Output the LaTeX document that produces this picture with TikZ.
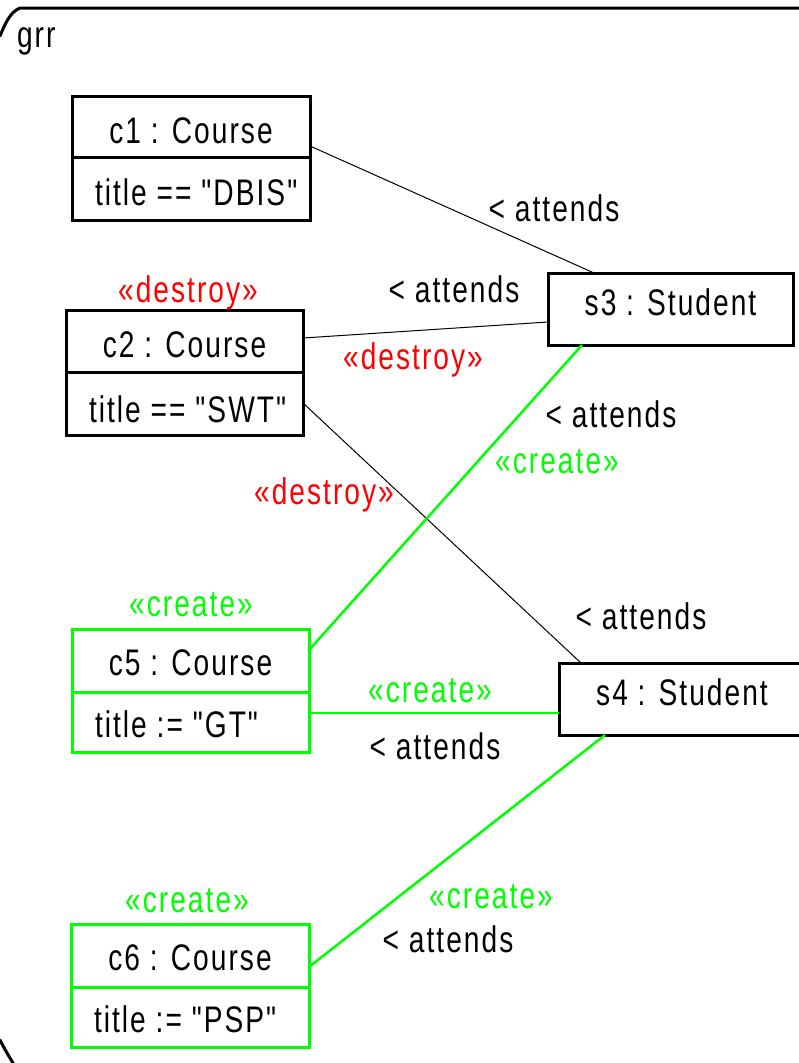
\documentclass[tikz,border=0pt]{standalone}
\usepackage{fontspec}
\setmainfont{Liberation Sans}[Ligatures=TeXOff,FakeStretch=0.76,LetterSpace=5.5]
\definecolor{creategreen}{RGB}{0,255,0}
\definecolor{destroyred}{RGB}{255,0,0}
\begin{document}
\begin{tikzpicture}[x=1pt,y=-1pt,
  every node/.style={font=\fontsize{37}{42}\selectfont, inner sep=0pt, outer sep=0pt},
  objbox/.style={draw=black, line width=3pt, rectangle},
  newbox/.style={objbox, draw=creategreen},
  divider/.style={line width=3pt},
  txt/.style={anchor=base},
  attr/.style={anchor=base west},
  link/.style={line width=1pt, black},
  newlink/.style={line width=2.5pt, creategreen},
  mkdestroy/.style={anchor=base, text=destroyred},
  mkcreate/.style={anchor=base, text=creategreen},
  framepath/.style={line width=3pt, line cap=round}]

\useasboundingbox (0,0) rectangle (799,1063);
\fill[white] (0,0) rectangle (799,1063);
\clip (0,0) rectangle (799,1063);

% frame of the rule
\draw[framepath] (0,36) .. controls (5,24) and (10,12) .. (20,8) -- (820,8);
\draw[framepath] (0,1040) .. controls (5,1050) and (10,1058) .. (16,1068);
\node[anchor=base west] (grr) at (17,47) {grr};

% objects
\node[objbox, minimum width=238pt, minimum height=124pt] (c1) at (191,158) {};
\node[objbox, minimum width=237pt, minimum height=125pt] (c2) at (184.5,372.5) {};
\node[newbox, minimum width=237pt, minimum height=123pt] (c5) at (190.5,690.5) {};
\node[newbox, minimum width=238pt, minimum height=123pt] (c6) at (190,985.5) {};
\node[objbox, minimum width=245pt, minimum height=72pt] (s3) at (670.5,309) {};
\node[objbox, minimum width=246pt, minimum height=72pt] (s4) at (682,699) {};

% compartments
\draw[divider] ([yshift=-61pt]c1.north west) -- ([yshift=-61pt]c1.north east);
\draw[divider] ([yshift=-62pt]c2.north west) -- ([yshift=-62pt]c2.north east);
\draw[divider, creategreen] ([yshift=-63pt]c5.north west) -- ([yshift=-63pt]c5.north east);
\draw[divider, creategreen] ([yshift=-63pt]c6.north west) -- ([yshift=-63pt]c6.north east);

% object names and attributes
\node[txt] (c1n) at ([yshift=-47pt]c1.north) {c1 : Course};
\node[attr] (c1a) at ([xshift=23pt,yshift=-109pt]c1.north west) {title == "DBIS"};
\node[txt] (c2n) at ([yshift=-47pt]c2.north) {c2 : Course};
\node[attr] (c2a) at ([xshift=23pt,yshift=-112pt]c2.north west) {title == "SWT"};
\node[txt] (c5n) at ([yshift=-46pt]c5.north) {c5 : Course};
\node[attr] (c5a) at ([xshift=23pt,yshift=-108pt]c5.north west) {title := "GT"};
\node[txt] (c6n) at ([yshift=-46pt]c6.north) {c6 : Course};
\node[attr] (c6a) at ([xshift=23pt,yshift=-108pt]c6.north west) {title := "PSP"};
\node[txt] (s3n) at ([yshift=-42pt]s3.north) {s3 : Student};
\node[txt] (s4n) at ([yshift=-42pt]s4.north) {s4 : Student};

% object stereotypes
\node[mkdestroy] (c2st) at (188,302) {«destroy»};
\node[mkcreate] (c5st) at (191,616) {«create»};
\node[mkcreate] (c6st) at (187,912) {«create»};

% links
\draw[link] ([yshift=-50pt]c1.north east) -- ([xshift=46pt]s3.north west);
\draw[link] ([yshift=-28pt]c2.north east) -- ([yshift=-49pt]s3.north west);
\draw[link] ([yshift=-93pt]c2.north east) -- ([xshift=22pt]s4.north west);
\draw[newlink] ([yshift=-21pt]c5.north east) -- ([xshift=34pt]s3.south west);
\draw[newlink] ([yshift=-84pt]c5.north east) -- ([yshift=-50pt]s4.north west);
\draw[newlink] ([yshift=-43pt]c6.north east) -- ([xshift=46pt]s4.south west);

% link labels
\node[txt] (l1) at (554,221) {< attends};
\node[txt] (l2) at (454,302) {< attends};
\node[mkdestroy] (l2st) at (413,369) {«destroy»};
\node[mkdestroy] (l3st) at (324,504) {«destroy»};
\node[txt] (l3) at (641,629) {< attends};
\node[txt] (l4) at (611,427) {< attends};
\node[mkcreate] (l4st) at (557,473) {«create»};
\node[mkcreate] (l5st) at (430,702) {«create»};
\node[txt] (l5) at (435,759) {< attends};
\node[mkcreate] (l6st) at (491,908) {«create»};
\node[txt] (l6) at (448,952) {< attends};
\end{tikzpicture}
\end{document}
